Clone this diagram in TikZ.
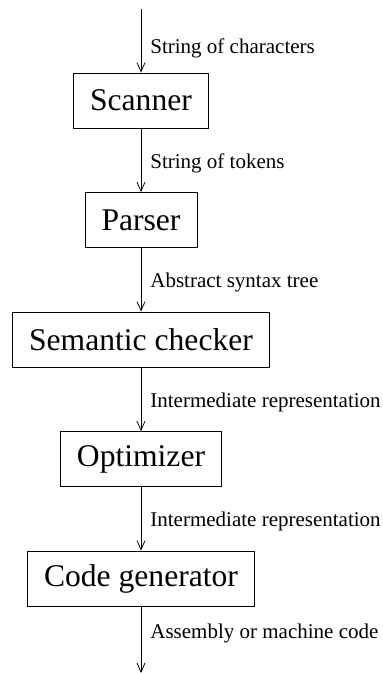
\documentclass[tikz,border=0pt]{standalone}
\usepackage{fontspec}
\setmainfont{Liberation Serif}
\usetikzlibrary{arrows.meta}
\begin{document}
\begin{tikzpicture}[x=1pt,y=-1pt,
  stage/.style={draw,line width=0.8pt,minimum height=55pt,inner xsep=16.5pt,inner ysep=0pt,
    font=\fontsize{31.6}{36}\selectfont,anchor=center},
  flow/.style={line width=0.8pt,-{Straight Barb[length=9pt,width=8pt,line width=0.8pt]}},
  lbl/.style={font=\fontsize{21}{25}\selectfont,anchor=west,inner sep=0pt,xshift=9pt}]
\useasboundingbox (0,0) rectangle (383,673);
\coordinate (top) at (141,9);
\coordinate (bot) at (141,673);
\node[stage] (scan) at (141,100.5) {Scanner};
\node[stage] (pars) at (141,220) {Parser};
\node[stage] (sem) at (141,339.5) {Semantic checker};
\node[stage] (opt) at (141,459) {Optimizer};
\node[stage] (gen) at (141,578.5) {Code generator};
\draw[flow] (top) -- (scan.north) node[lbl,pos=0.5,yshift=-8pt] (l1) {String of characters};
\draw[flow] (scan.south) -- (pars.north) node[lbl,pos=0.5,yshift=-3pt] (l2) {String of tokens};
\draw[flow] (pars.south) -- (sem.north) node[lbl,pos=0.5,yshift=-3pt] (l3) {Abstract syntax tree};
\draw[flow] (sem.south) -- (opt.north) node[lbl,pos=0.5,yshift=-3pt] (l4) {Intermediate representation};
\draw[flow] (opt.south) -- (gen.north) node[lbl,pos=0.5,yshift=-3pt] (l5) {Intermediate representation};
\draw[flow] (gen.south) -- (bot) node[lbl,pos=0.4] (l6) {Assembly or machine code};
\end{tikzpicture}
\end{document}
